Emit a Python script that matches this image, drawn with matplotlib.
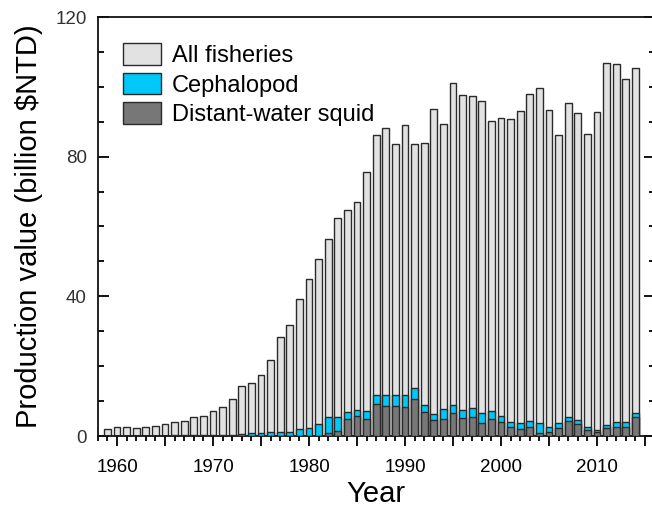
import numpy as np
import matplotlib
matplotlib.use("Agg")
import matplotlib.pyplot as plt
from matplotlib.ticker import MultipleLocator, FuncFormatter
from matplotlib.patches import Patch

plt.rcParams["font.family"] = ["Liberation Sans", "DejaVu Sans"]

# Annual production value (billion $NTD)
years = np.arange(1959, 2015)
all_fisheries = [2.0, 2.5, 2.5, 2.4, 2.5, 3.0, 3.4, 3.9, 4.2, 5.3,
                 5.7, 7.2, 8.4, 10.5, 14.3, 15.3, 17.5, 21.7, 28.4, 31.8,
                 39.2, 45.0, 50.6, 56.4, 62.3, 64.6, 67.0, 75.6, 86.3, 88.3,
                 83.6, 89.2, 83.6, 84.0, 93.6, 89.3, 101.0, 97.8, 97.5, 96.0,
                 90.3, 91.2, 90.8, 93.2, 97.9, 99.7, 93.5, 86.2, 95.4, 92.4,
                 86.4, 92.8, 106.8, 106.6, 102.2, 105.3]
cephalopod = [0.1, 0.1, 0.1, 0.1, 0.1, 0.1, 0.1, 0.2, 0.2, 0.2,
              0.2, 0.2, 0.2, 0.3, 0.6, 0.8, 0.9, 1.2, 1.1, 1.2,
              2.0, 2.4, 3.5, 5.4, 5.4, 6.9, 7.5, 7.2, 11.6, 11.6,
              11.6, 11.8, 13.8, 9.0, 6.4, 7.8, 8.9, 7.4, 7.9, 6.5,
              7.3, 5.8, 4.1, 3.6, 4.3, 3.8, 2.7, 3.8, 5.5, 4.6,
              2.5, 1.7, 3.2, 4.0, 4.1, 6.5]
squid = [0.0, 0.0, 0.0, 0.0, 0.0, 0.0, 0.0, 0.0, 0.0, 0.0,
         0.0, 0.0, 0.0, 0.0, 0.0, 0.0, 0.0, 0.0, 0.0, 0.0,
         0.0, 0.0, 0.0, 1.0, 1.4, 4.8, 5.7, 4.9, 9.1, 8.6,
         8.5, 8.2, 10.5, 6.8, 4.5, 4.8, 6.5, 5.1, 5.3, 3.8,
         4.8, 4.1, 2.5, 1.9, 2.5, 1.0, 1.2, 2.4, 4.3, 3.4,
         1.7, 1.2, 2.2, 2.5, 2.7, 5.3]
series_labels = ["All fisheries", "Cephalopod", "Distant-water squid"]

c_all = "#e2e2e2"
c_ceph = "#00c8f8"
c_squid = "#777777"
edge = "#2a2a2a"

fig = plt.figure(figsize=(6.52, 5.11), dpi=100)
ax = fig.add_axes([97.8 / 652, 75 / 511, 556.8 / 652, 419 / 511])

w = 0.72
lw = 1.0
ax.bar(years, all_fisheries, width=w, color=c_all, edgecolor=edge, linewidth=lw, zorder=2)
ax.bar(years, cephalopod, width=w, color=c_ceph, edgecolor=edge, linewidth=lw, zorder=3)
ax.bar(years, squid, width=w, color=c_squid, edgecolor=edge, linewidth=lw, zorder=4)

ax.set_xlim(1958, 2016)
ax.set_ylim(0, 120)

ax.xaxis.set_major_locator(MultipleLocator(5))
ax.xaxis.set_minor_locator(MultipleLocator(1))
ax.xaxis.set_major_formatter(FuncFormatter(lambda v, p: f"{int(round(v))}" if int(round(v)) % 10 == 0 else ""))
ax.yaxis.set_major_locator(MultipleLocator(40))
ax.yaxis.set_minor_locator(MultipleLocator(10))

ax.tick_params(axis="x", which="major", direction="out", length=7.5, width=1.3,
               labelsize=13.5, pad=9, bottom=True, top=False)
ax.tick_params(axis="x", which="minor", direction="out", length=3.8, width=1.3,
               bottom=True, top=False)
ax.tick_params(axis="y", which="major", direction="in", length=8, width=1.3,
               labelsize=13.5, pad=8, left=True, right=True, labelcolor="#333333")
ax.tick_params(axis="y", which="minor", direction="in", length=4.2, width=1.3,
               left=True, right=True)

for s in ax.spines.values():
    s.set_linewidth(1.3)
    s.set_color("#111111")

ax.set_xlabel("Year", fontsize=21, labelpad=3)
ax.set_ylabel("Production value (billion $NTD)", fontsize=21, labelpad=9)

handles = [Patch(facecolor=c_all, edgecolor=edge, linewidth=1.0),
           Patch(facecolor=c_ceph, edgecolor=edge, linewidth=1.0),
           Patch(facecolor=c_squid, edgecolor=edge, linewidth=1.0)]
ax.legend(handles, series_labels, loc="upper left", bbox_to_anchor=(0.037, 0.950),
          frameon=False, fontsize=17, handlelength=1.6, handleheight=1.05,
          handletextpad=0.45, labelspacing=0.25, borderaxespad=0, borderpad=0.2)

fig.savefig("out.png", dpi=100)
